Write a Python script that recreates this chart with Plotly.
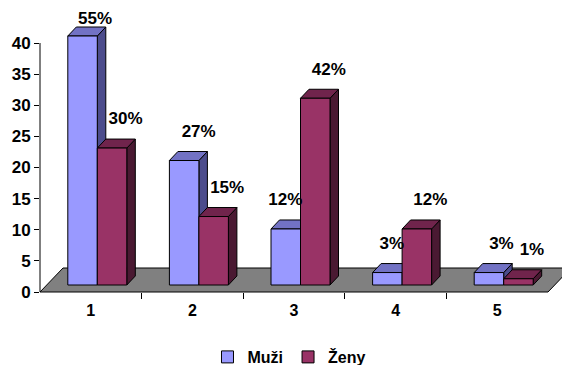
import plotly.graph_objects as go

# ---------------- data ----------------
categories = [1, 2, 3, 4, 5]
category_labels = ["1", "2", "3", "4", "5"]
muzi = [40, 20, 9, 2, 2]
zeny = [22, 11, 30, 9, 1]
muzi_pct = ["55%", "27%", "12%", "3%", "3%"]
zeny_pct = ["30%", "15%", "42%", "12%", "1%"]
y_ticks = [0, 5, 10, 15, 20, 25, 30, 35, 40]

# ---------------- geometry / style ----------------
W, H = 562, 365
ML, MR, MT, MB = 40, 0, 0, 65
PLOT_W = W - ML - MR
PLOT_H = H - MT - MB
PX_X = 101.6          # px per category unit
PX_Y = 6.225          # px per value unit
Y0_PX_ABOVE_BOTTOM = 8  # y=0 sits 8 px above plot bottom

# label placement nudges (px), style only
MUZI_LABEL_NUDGE = [0, 2, -13, -8, 0]
ZENY_LABEL_NUDGE = [0, 0, 0, 0, 0]

x_min = 0.5
x_max = x_min + PLOT_W / PX_X
y_min = -Y0_PX_ABOVE_BOTTOM / PX_Y
y_max = y_min + PLOT_H / PX_Y

def ux(px):
    return px / PX_X

def uy(px):
    return px / PX_Y

FLOOR_DX, FLOOR_DY = ux(23), uy(24)
FRONT_DX, FRONT_DY = ux(6.5), uy(7)
BAR_DX, BAR_DY = ux(8.5), uy(9)
BAR_W = ux(29.5)

C_M_FRONT, C_M_TOP, C_M_SIDE = "#9999FF", "#7272C4", "#4C4C8C"
C_Z_FRONT, C_Z_TOP, C_Z_SIDE = "#993366", "#70244C", "#4A1932"
FONT = "Liberation Sans, Arial, sans-serif"

x_lo = min(categories) - 0.5
x_hi = max(categories) + 0.5

shapes = []
# floor
shapes.append(dict(
    type="path", xref="x", yref="y", layer="below",
    path=f"M{x_lo},0 L{x_hi},0 L{x_hi + FLOOR_DX},{FLOOR_DY} L{x_lo + FLOOR_DX},{FLOOR_DY} Z",
    fillcolor="#808080", line=dict(color="black", width=1)))

def faces(xl, v, top_c, side_c):
    xr = xl + BAR_W
    yb = FRONT_DY
    yt = FRONT_DY + v
    top = dict(type="path", xref="x", yref="y", layer="below",
               path=f"M{xl},{yt} L{xr},{yt} L{xr + BAR_DX},{yt + BAR_DY} L{xl + BAR_DX},{yt + BAR_DY} Z",
               fillcolor=top_c, line=dict(color="black", width=1))
    side = dict(type="path", xref="x", yref="y", layer="below",
                path=f"M{xr},{yb} L{xr + BAR_DX},{yb + BAR_DY} L{xr + BAR_DX},{yt + BAR_DY} L{xr},{yt} Z",
                fillcolor=side_c, line=dict(color="black", width=1))
    return [side, top]

m_off = FRONT_DX - BAR_W
z_off = FRONT_DX
for c, vm, vz in zip(categories, muzi, zeny):
    shapes += faces(c + m_off, vm, C_M_TOP, C_M_SIDE)
    shapes += faces(c + z_off, vz, C_Z_TOP, C_Z_SIDE)

# y axis line (0 .. 40)
shapes.append(dict(type="line", xref="paper", yref="y", x0=0, x1=0,
                   y0=0, y1=max(y_ticks), line=dict(color="black", width=1)))

fig = go.Figure()
fig.add_trace(go.Bar(
    name="Muži", x=categories, y=muzi, base=FRONT_DY, width=BAR_W, offset=m_off,
    marker=dict(color=C_M_FRONT, line=dict(color="black", width=1))))
fig.add_trace(go.Bar(
    name="Ženy", x=categories, y=zeny, base=FRONT_DY, width=BAR_W, offset=z_off,
    marker=dict(color=C_Z_FRONT, line=dict(color="black", width=1))))

# data labels
LABEL_UP = uy(19)
LABEL_CAP = uy(272)
lab_x, lab_y, lab_t = [], [], []
for c, v, t, n in zip(categories, muzi, muzi_pct, MUZI_LABEL_NUDGE):
    lab_x.append(c + m_off + BAR_W / 2 + BAR_DX + ux(4 + n))
    lab_y.append(min(FRONT_DY + v + BAR_DY + LABEL_UP, LABEL_CAP))
    lab_t.append(t)
for c, v, t, n in zip(categories, zeny, zeny_pct, ZENY_LABEL_NUDGE):
    lab_x.append(c + z_off + BAR_W / 2 + BAR_DX + ux(5 + n))
    lab_y.append(min(FRONT_DY + v + BAR_DY + LABEL_UP, LABEL_CAP))
    lab_t.append(t)
fig.add_trace(go.Scatter(
    x=lab_x, y=lab_y, text=lab_t, mode="text", showlegend=False, cliponaxis=False,
    textfont=dict(family=FONT, size=17, color="black", weight="bold"),
    hoverinfo="skip"))

fig.update_layout(
    width=W, height=H,
    margin=dict(l=ML, r=MR, t=MT, b=MB, autoexpand=False),
    paper_bgcolor="white", plot_bgcolor="white",
    barmode="overlay", shapes=shapes,
    font=dict(family=FONT, color="black"),
    legend=dict(orientation="h", x=0.477, xanchor="center", y=-0.19, yanchor="middle",
                font=dict(family=FONT, size=16, weight="bold"),
                itemwidth=30, tracegroupgap=0),
    xaxis=dict(range=[x_min, x_max], showgrid=False, zeroline=False, showline=False,
               tickvals=categories, ticktext=category_labels, ticks="",
               tickfont=dict(family=FONT, size=16, weight="bold"),
               ticklabelstandoff=7,
               anchor="free", position=(0 - y_min) / (y_max - y_min),
               minor=dict(tickvals=[c + 0.5 for c in categories[:-1]], ticks="outside",
                          ticklen=6, tickcolor="black", showgrid=False),
               fixedrange=True),
    yaxis=dict(range=[y_min, y_max], showgrid=False, zeroline=False, showline=False,
               tickvals=y_ticks, ticks="outside", ticklen=5, tickcolor="black",
               tickfont=dict(family=FONT, size=17, weight="bold"),
               fixedrange=True),
)

fig.write_html("out.html")
